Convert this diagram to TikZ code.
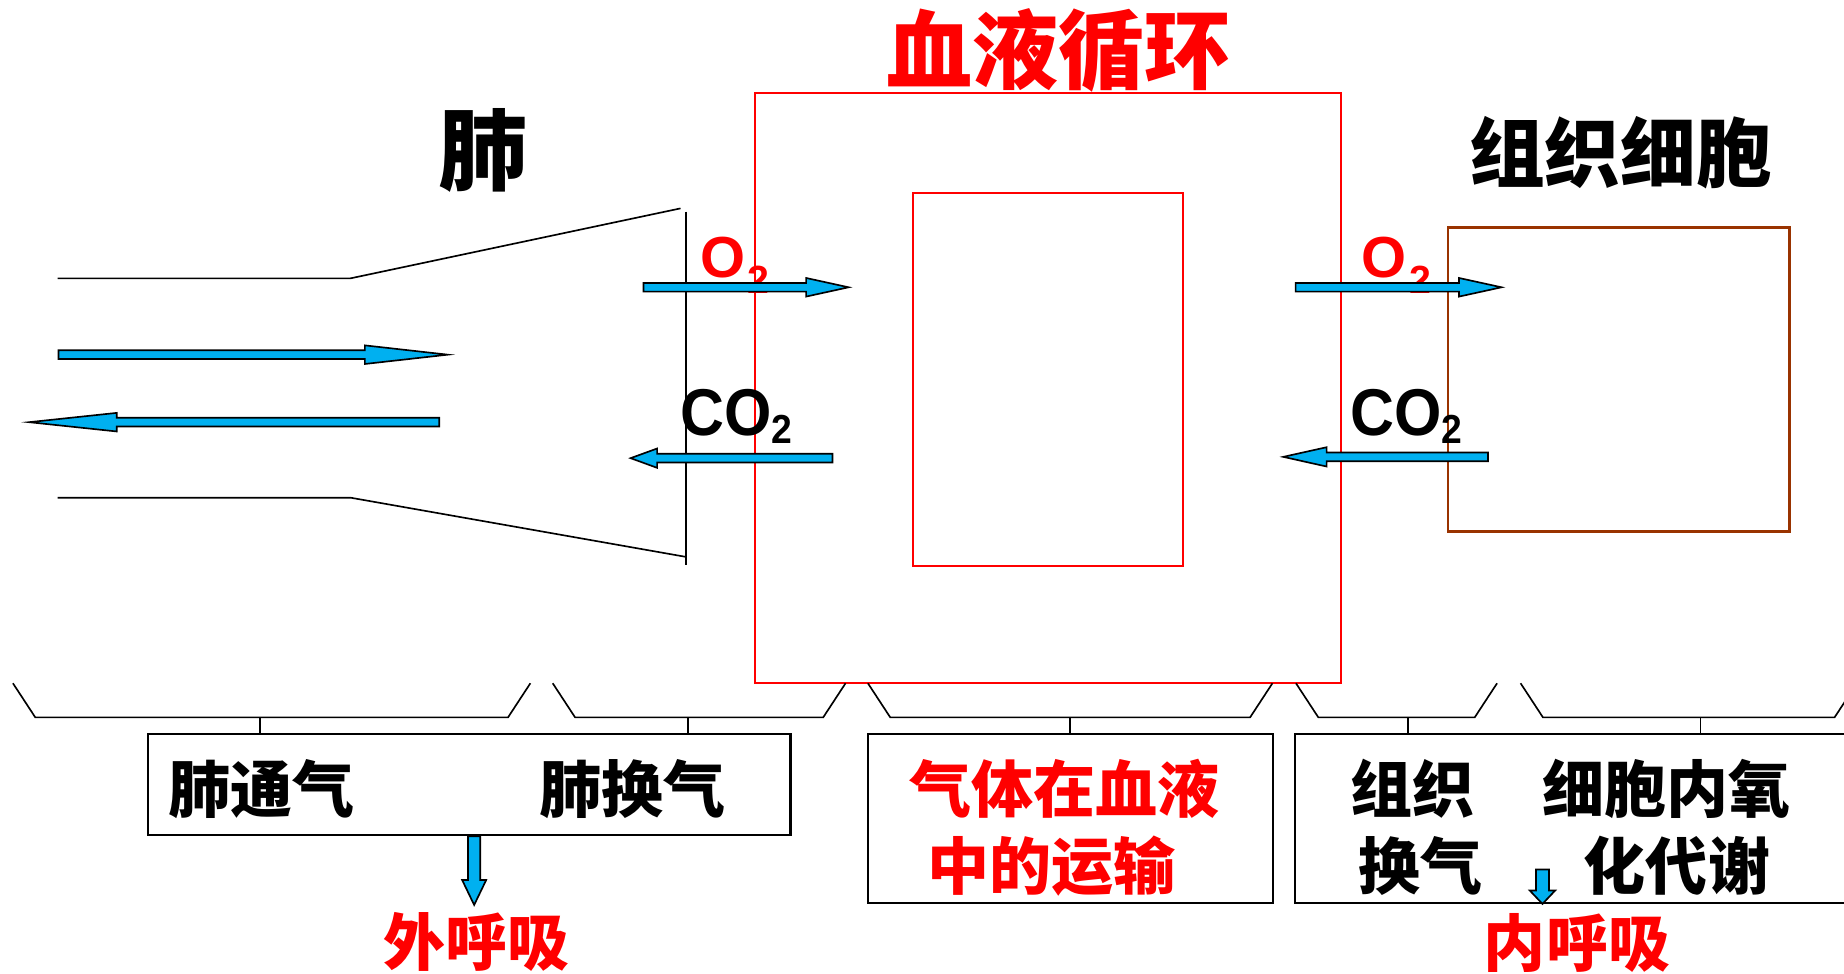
\documentclass[tikz,border=0pt]{standalone}
\usepackage{fontspec}
\setmainfont{Noto Sans CJK SC}
\newfontfamily\latinfont{Liberation Sans}[UprightFont=* Bold]
\newfontfamily\latinnarrow{Liberation Sans}[UprightFont=* Bold, FakeStretch=0.92]
\usepackage{tikz}
\usetikzlibrary{shapes.arrows}

\definecolor{gasblue}{RGB}{0,176,240}
\definecolor{bloodred}{RGB}{255,0,0}
\definecolor{cellbrown}{RGB}{153,51,0}

\tikzset{
  headtext/.style={font=\bfseries\fontsize{#1}{#1}\selectfont, inner sep=0pt},
  boxtext/.style={font=\bfseries\fontsize{15}{15}\selectfont, inner sep=0pt},
  otext/.style={font=\latinfont\fontsize{14}{14}\selectfont, inner sep=0pt, anchor=base west},
  cotext/.style={font=\latinnarrow\fontsize{16}{16}\selectfont, inner sep=0pt, anchor=base west},
  gasarrow/.style={single arrow, draw=black, fill=gasblue, line width=0.4pt,
    inner xsep=0pt, inner ysep=0.03cm, single arrow head extend=0.042cm,
    minimum width=0pt, anchor=tail},
  stagebox/.style={draw=black, line width=0.5pt, inner sep=0pt},
  brace/.style={draw=black, line width=0.4pt}
}

\begin{document}
\begin{tikzpicture}[x=0.01cm, y=-0.01cm]
    \useasboundingbox (0,0) rectangle (1568,828);
    \clip (0,0) rectangle (1568,828);

    % blood, lung, tissue
    \draw[bloodred, line width=0.45pt] (642,79) rectangle (1140,581);
    \draw[bloodred, line width=0.45pt] (776,164.4) rectangle (1005.6,481);
    \draw[cellbrown, line width=0.55pt] (1231,193.4) rectangle (1521.7,452);
    \draw[line width=0.4pt] (49,236.7) -- (298,236.7) -- (578.7,177.2);
    \draw[line width=0.4pt] (49,423.2) -- (298,423.2) -- (582.5,473.4);
    \draw[line width=0.4pt] (583.4,180) -- (583.4,480.5);

    \node[headtext=20.8, bloodred] (blood) at (900,43) {血液循环};
    \node[headtext=21.5] (lung) at (410.5,128) {肺};
    \node[headtext=18.3] (tissue) at (1378,130) {组织细胞};

    \node[otext, bloodred] (o2a) at (595,236.2) {O\kern0.02cm\raisebox{-0.13cm}{\fontsize{9.5}{9.5}\selectfont 2}};
    \node[cotext] (co2a) at (577.9,370.5) {CO\raisebox{-0.07cm}{\fontsize{9.8}{9.8}\selectfont 2}};
    \node[otext, bloodred] (o2b) at (1156.8,236.2) {O\kern0.025cm\raisebox{-0.13cm}{\fontsize{9.5}{9.5}\selectfont 2}};
    \node[cotext] (co2b) at (1147.7,370.5) {CO\raisebox{-0.07cm}{\fontsize{9.8}{9.8}\selectfont 2}};

    % blue arrows
    \node[gasarrow, minimum height=3.309cm, single arrow tip angle=12.8] (inhale) at (49,301.6) {};
    \node[gasarrow, rotate=180, minimum height=3.486cm, single arrow tip angle=12.1] (exhale) at (374.2,359) {};
    \node[gasarrow, minimum height=1.743cm, single arrow tip angle=24.7] (o2in) at (546.5,244.3) {};
    \node[gasarrow, rotate=180, minimum height=1.716cm, single arrow tip angle=40, single arrow head extend=0.045cm] (co2out) at (708.6,389.6) {};
    \node[gasarrow, minimum height=1.75cm, single arrow tip angle=24.7] (o2cell) at (1101,244.3) {};
    \node[gasarrow, rotate=180, minimum height=1.74cm, single arrow tip angle=25.1, single arrow head extend=0.045cm] (co2cell) at (1266,388.5) {};

    % stages
    \node[stagebox, minimum width=5.46cm, minimum height=0.864cm] (boxA) at (399,667.2) {};
    \node[stagebox, minimum width=3.44cm, minimum height=1.44cm] (boxB) at (910,696) {};
    \node[stagebox, minimum width=5.19cm, minimum height=1.44cm] (boxC) at (1360.6,696) {};
    \foreach \a/\b/\s/\bx in {11/451/221/boxA, 470/719/585/boxA, 738/1082/910/boxB,
        1102/1273/1197/boxC, 1293/1579/1446/boxC}
    {
        \draw[brace] (\a,581) -- ({\a+19},610) -- ({\b-19},610) -- (\b,581);
        \coordinate (stem) at (\s,610);
        \draw[brace] (stem) -- (stem |- \bx.north);
    }

    \node[boxtext] (vent) at (222,671) {肺通气};
    \node[boxtext] (lungex) at (538,671) {肺换气};
    \node[boxtext, bloodred] (trans1) at (905,670.5) {气体在血液};
    \node[boxtext, bloodred] (trans2) at (894,736.5) {中的运输};
    \node[boxtext] (tissex1) at (1201,670.5) {组织};
    \node[boxtext] (tissex2) at (1208,736.5) {换气};
    \node[boxtext] (metab1) at (1417,670.5) {细胞内氧};
    \node[boxtext] (metab2) at (1426,736.5) {化代谢};
    \node[boxtext, bloodred] (outer) at (405,801) {外呼吸};
    \node[boxtext, bloodred] (inner) at (1341,802) {内呼吸};

    \node[gasarrow, rotate=-90, inner ysep=0.045cm, single arrow head extend=0.05cm,
        minimum height=0.584cm, single arrow tip angle=51.4] (toouter) at (403.2,710.4) {};
    \node[gasarrow, rotate=-90, inner ysep=0.048cm, single arrow head extend=0.053cm,
        minimum height=0.292cm, single arrow tip angle=87] (toinner) at (1311.6,738.7) {};
\end{tikzpicture}
\end{document}
